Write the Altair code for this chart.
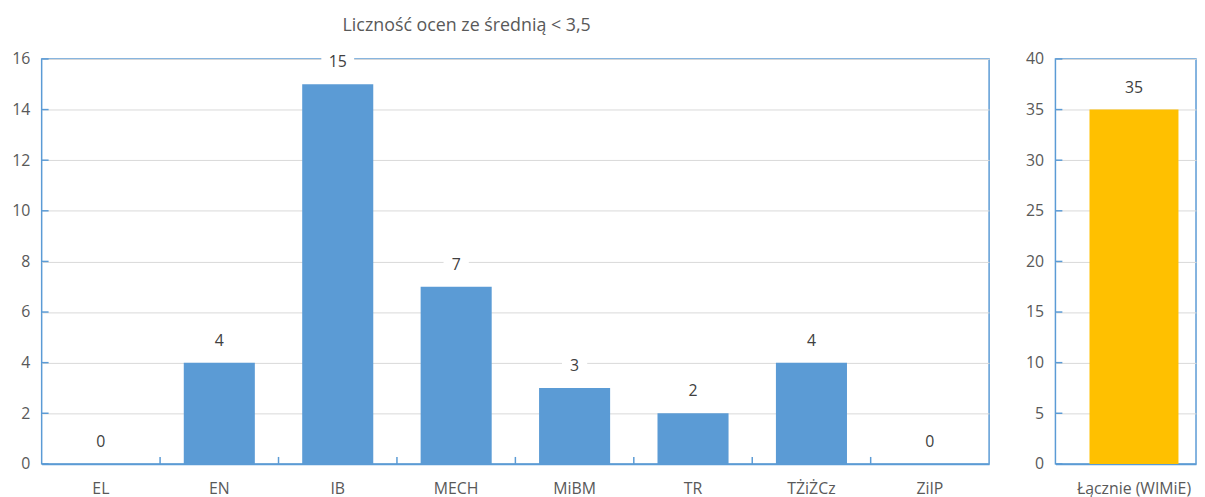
import altair as alt
import pandas as pd

categories = ["EL", "EN", "IB", "MECH", "MiBM", "TR", "TŻiŻCz", "ZiIP"]
values = [0, 4, 15, 7, 3, 2, 4, 0]
total_category = ["Łącznie (WIMiE)"]
total_value = [35]
left_ticks = [0, 2, 4, 6, 8, 10, 12, 14, 16]
right_ticks = [0, 5, 10, 15, 20, 25, 30, 35, 40]
title_text = "Liczność ocen ze średnią < 3,5"

BLUE = "#5b9bd5"
GOLD = "#ffc000"
FONT = "Open Sans"
FS = 16
LW, RW, H = 957, 142, 409
PAD_IN, PAD_OUT = 0.4, 0.2
STEP = LW / len(categories)

df_left = pd.DataFrame({"cat": categories, "v": values})
df_right = pd.DataFrame({"cat": total_category, "v": total_value})
df_lt = pd.DataFrame({"v": left_ticks})
df_rt = pd.DataFrame({"v": right_ticks})
df_bound = pd.DataFrame({"cat": categories[1:]})

BOX = "M-1,-0.72H1V0.72H-1Z"


def panel(df, ticks_df, order, domain, width, color, bound_df=None, xscale=None):
    x_enc = alt.X("cat:N", sort=order, title=None, scale=xscale,
                  axis=alt.Axis(labelAngle=0, labelColor="#595959", labelFontSize=FS,
                                labelFont=FONT, labelPadding=17, ticks=False,
                                domain=True, domainColor=BLUE, domainWidth=2))
    y_enc = alt.Y("v:Q", title=None, scale=alt.Scale(domain=domain, nice=False),
                  axis=alt.Axis(values=list(ticks_df["v"]), domain=False, ticks=False,
                                tickSize=0, grid=True, gridColor="#d9d9d9", gridWidth=1,
                                labelColor="#595959", labelFontSize=FS, labelFont=FONT,
                                labelPadding=12))
    bars = alt.Chart(df).mark_bar(color=color).encode(x=x_enc, y=y_enc)
    yt = alt.Chart(ticks_df).mark_rule(color=BLUE, strokeWidth=1.5).encode(
        y="v:Q", x=alt.value(0), x2=alt.value(7))
    boxes = alt.Chart(df).transform_calculate(
        s="datum.v >= 10 ? 1100 : 650"
    ).mark_point(shape=BOX, filled=True, color="white", opacity=1, yOffset=-22).encode(
        x=alt.X("cat:N", sort=order), y="v:Q", size=alt.Size("s:Q", scale=None))
    labels = alt.Chart(df).mark_text(
        fontSize=FS, font=FONT, color="#404040", dy=-22, baseline="middle"
    ).encode(x=alt.X("cat:N", sort=order), y="v:Q", text="v:Q")
    layers = [bars, yt]
    if bound_df is not None:
        bt = alt.Chart(bound_df).mark_rule(
            color=BLUE, strokeWidth=1.5, xOffset=-STEP * PAD_IN / 2
        ).encode(
            x=alt.X("cat:N", sort=order, bandPosition=0),
            y=alt.value(H), y2=alt.value(H - 7))
        layers.append(bt)
    layers += [boxes, labels]
    return alt.layer(*layers).properties(width=width, height=H)


left = panel(df_left, df_lt, categories, [0, 16], LW, BLUE, df_bound,
             alt.Scale(paddingInner=PAD_IN, paddingOuter=PAD_OUT))
right = panel(df_right, df_rt, total_category, [0, 40], RW, GOLD, None,
              alt.Scale(paddingInner=0, paddingOuter=0.29, align=0.66))

chart = alt.hconcat(left, right, spacing=34).properties(
    title=alt.TitleParams(title_text, anchor="start", dx=335, fontSize=18, font=FONT,
                          color="#595959", fontWeight="normal", offset=15),
    padding={"left": 2, "top": 6, "right": 0, "bottom": 0},
    background="white",
).configure_view(stroke=BLUE, strokeWidth=1.5)

chart.save("out.html", embed_options={"renderer": "svg", "actions": False})
